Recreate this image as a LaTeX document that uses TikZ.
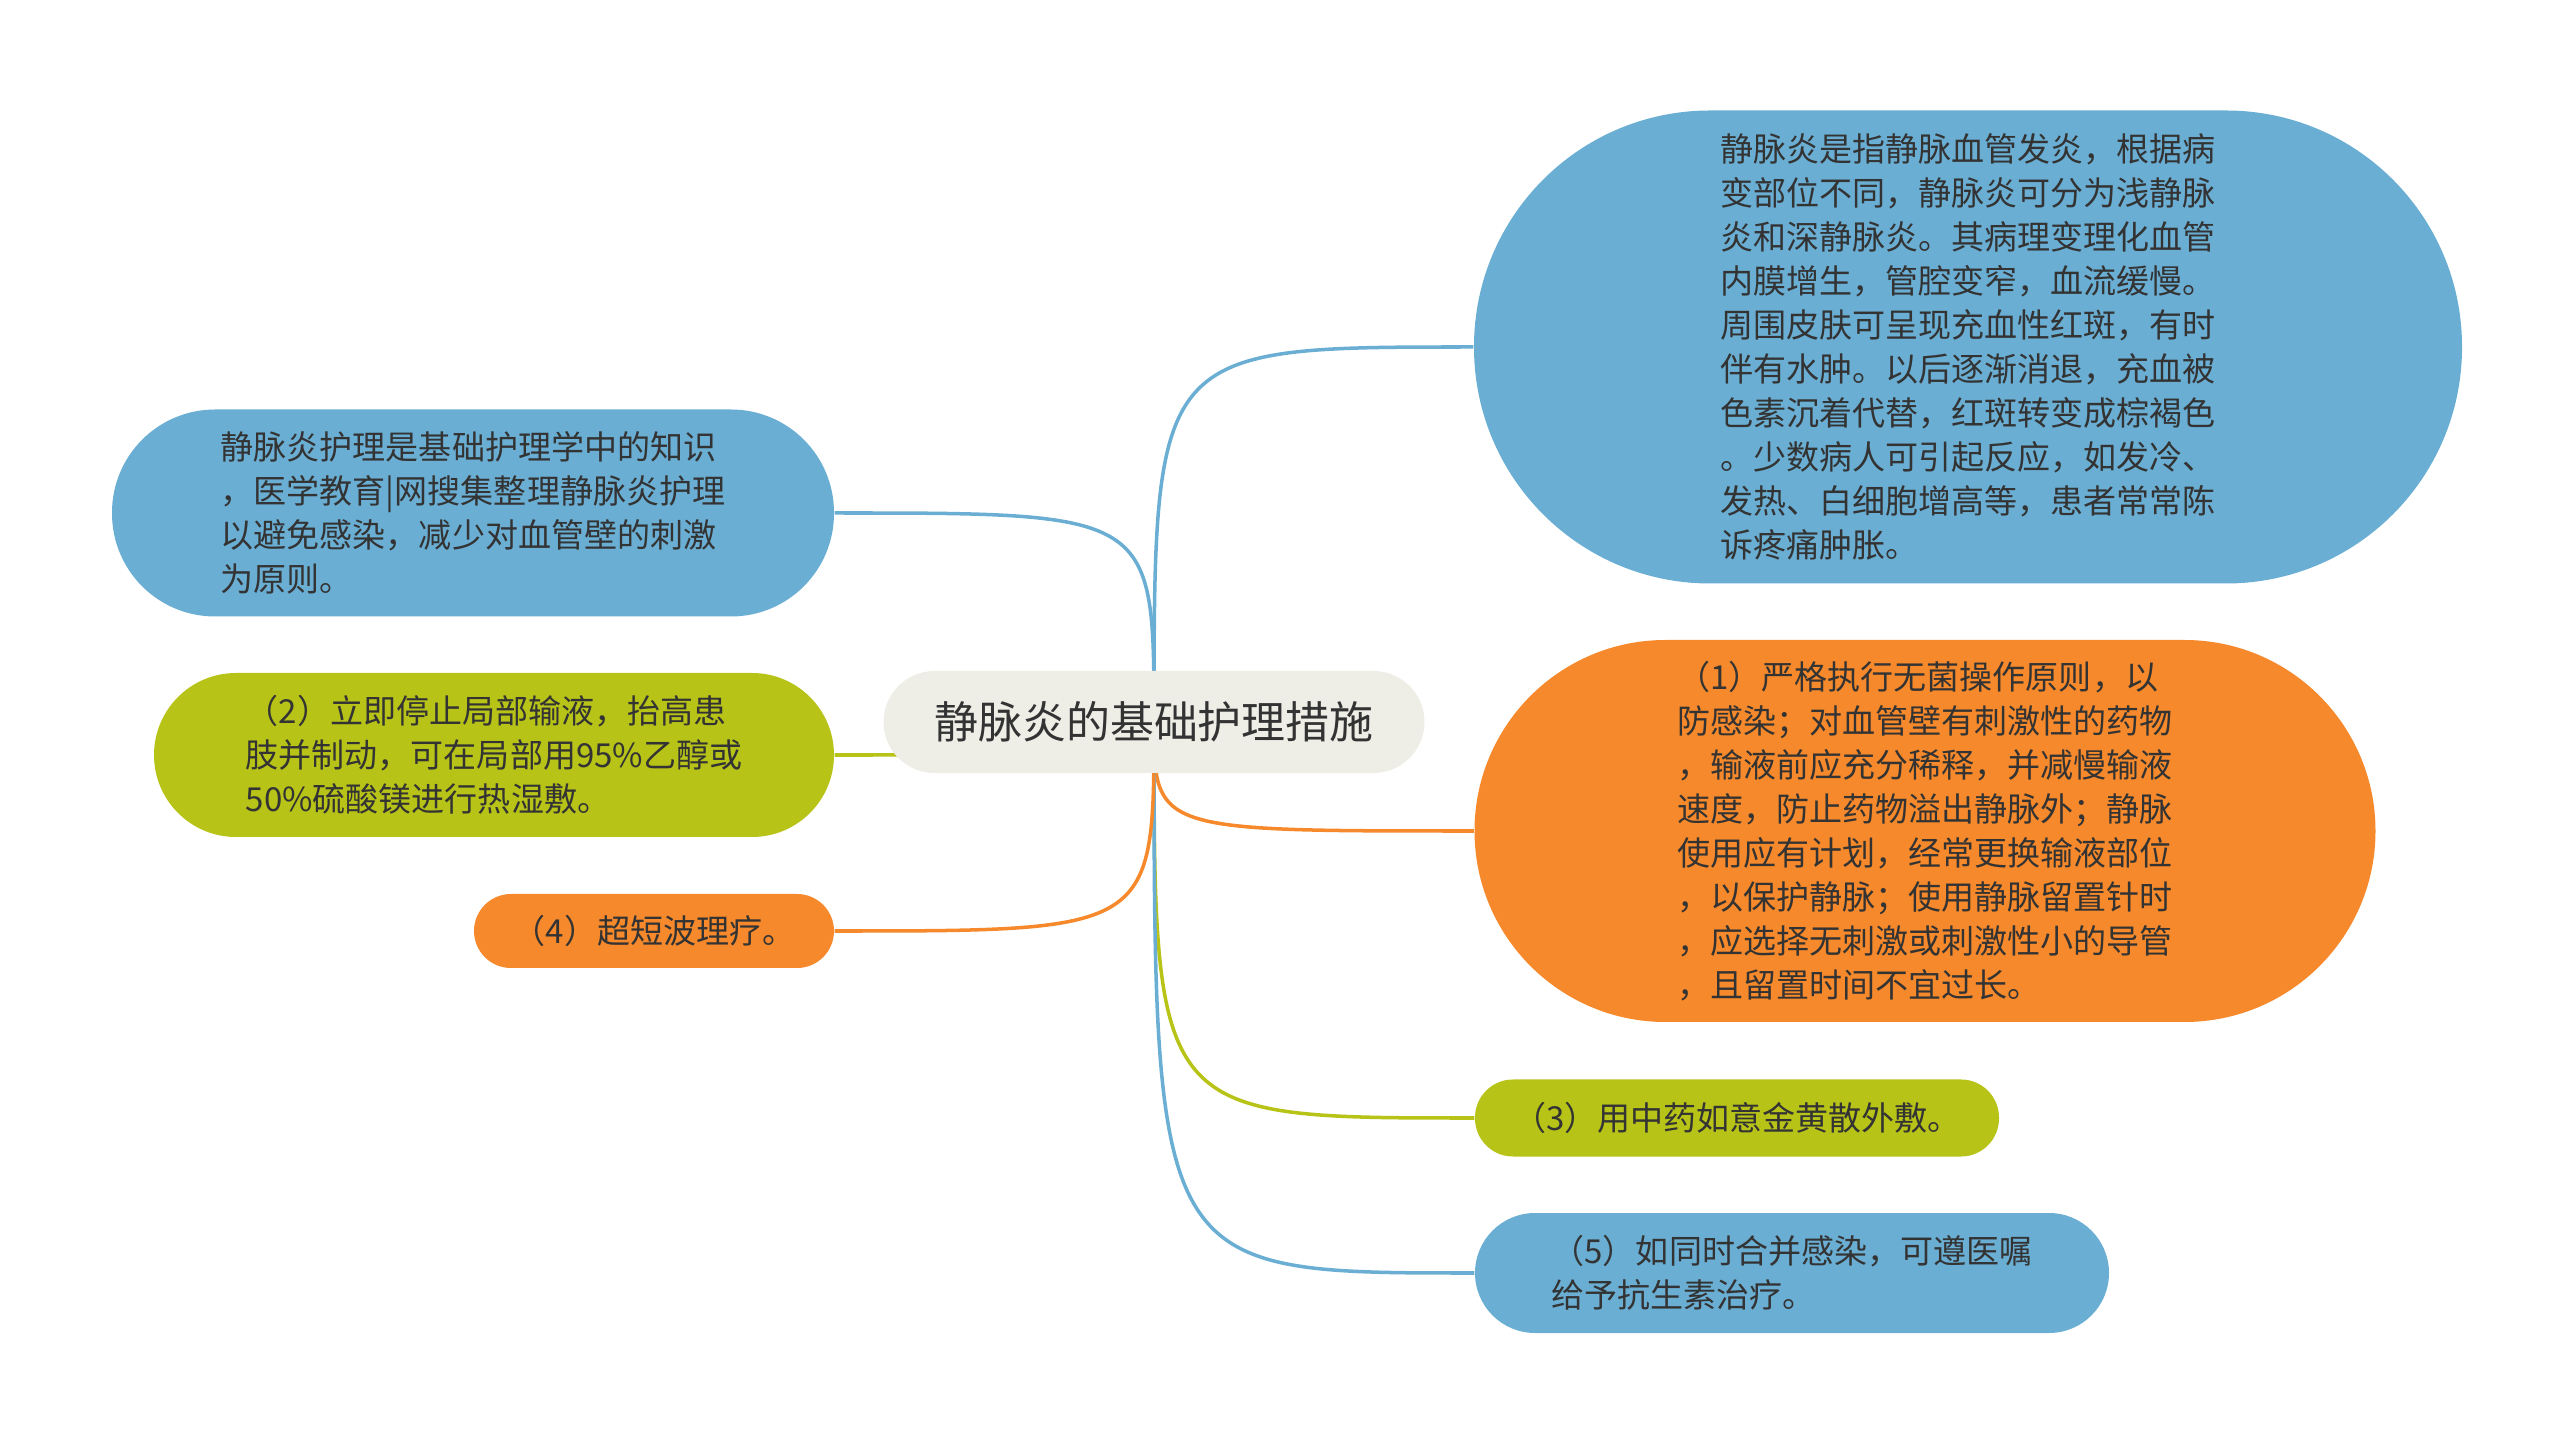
\documentclass[tikz,border=0pt]{standalone}
\usepackage{fontspec}
\setmainfont{Noto Sans CJK SC}
\usetikzlibrary{backgrounds}
\definecolor{leafblue}{HTML}{6AAED3}
\definecolor{leaforange}{HTML}{F5892B}
\definecolor{leafgreen}{HTML}{B8C318}
\definecolor{rootgray}{HTML}{EEEEE7}
\definecolor{inkgray}{HTML}{333333}

\begin{document}
\begin{tikzpicture}[
    leaf/.style={rectangle, align=left, inner sep=0pt, text=inkgray, font=\fontsize{9.4}{12.5}\selectfont},
    link/.style={line width=1pt},
]
    \useasboundingbox (0, 0) rectangle (25.6, 14.37);
    \node[rectangle, fill=rootgray, text=inkgray, minimum width=5.41cm, minimum height=1.02cm, rounded corners=0.51cm, font=\fontsize{12.5}{15}\selectfont] (root) at (11.54, 7.15) {静脉炎的基础护理措施};
    \node[leaf, fill=leafblue, minimum width=9.88cm, minimum height=4.73cm, rounded corners=2.36cm] (define) at (19.68, 10.9) {静脉炎是指静脉血管发炎，根据病\\变部位不同，静脉炎可分为浅静脉\\炎和深静脉炎。其病理变理化血管\\内膜增生，管腔变窄，血流缓慢。\\周围皮肤可呈现充血性红斑，有时\\伴有水肿。以后逐渐消退，充血被\\色素沉着代替，红斑转变成棕褐色\\。少数病人可引起反应，如发冷、\\发热、白细胞增高等，患者常常陈\\诉疼痛肿胀。};
    \node[leaf, fill=leaforange, minimum width=9.01cm, minimum height=3.82cm, rounded corners=1.91cm] (step1) at (19.25, 6.06) {（1）严格执行无菌操作原则，以\\防感染；对血管壁有刺激性的药物\\，输液前应充分稀释，并减慢输液\\速度，防止药物溢出静脉外；静脉\\使用应有计划，经常更换输液部位\\，以保护静脉；使用静脉留置针时\\，应选择无刺激或刺激性小的导管\\，且留置时间不宜过长。};
    \node[leaf, fill=leafgreen, minimum width=5.24cm, minimum height=0.77cm, rounded corners=0.38cm] (step3) at (17.37, 3.19) {（3）用中药如意金黄散外敷。};
    \node[leaf, fill=leafblue, minimum width=6.34cm, minimum height=1.2cm, rounded corners=0.6cm] (step5) at (17.92, 1.64) {（5）如同时合并感染，可遵医嘱\\给予抗生素治疗。};
    \node[leaf, fill=leafblue, minimum width=7.22cm, minimum height=2.07cm, rounded corners=1.03cm] (intro) at (4.73, 9.24) {静脉炎护理是基础护理学中的知识\\，医学教育|网搜集整理静脉炎护理\\以避免感染，减少对血管壁的刺激\\为原则。};
    \node[leaf, fill=leafgreen, minimum width=6.8cm, minimum height=1.64cm, rounded corners=0.82cm] (step2) at (4.94, 6.82) {（2）立即停止局部输液，抬高患\\肢并制动，可在局部用95\%乙醇或\\50\%硫酸镁进行热湿敷。};
    \node[leaf, fill=leaforange, minimum width=3.6cm, minimum height=0.74cm, rounded corners=0.37cm] (step4) at (6.54, 5.06) {（4）超短波理疗。};
    \begin{scope}[on background layer]
        \draw[link, leafblue] (root.center) .. controls (root.center |- define.west) .. (define.west);
        \draw[link, leaforange] (root.center) .. controls (root.center |- step1.west) .. (step1.west);
        \draw[link, leafgreen] (root.center) .. controls (root.center |- step3.west) .. (step3.west);
        \draw[link, leafblue] (root.center) .. controls (root.center |- step5.west) .. (step5.west);
        \draw[link, leafblue] (root.center) .. controls (root.center |- intro.east) .. (intro.east);
        \draw[link, leafgreen] (root.center) .. controls (root.center |- step2.east) .. (step2.east);
        \draw[link, leaforange] (root.center) .. controls (root.center |- step4.east) .. (step4.east);
    \end{scope}
\end{tikzpicture}
\end{document}
